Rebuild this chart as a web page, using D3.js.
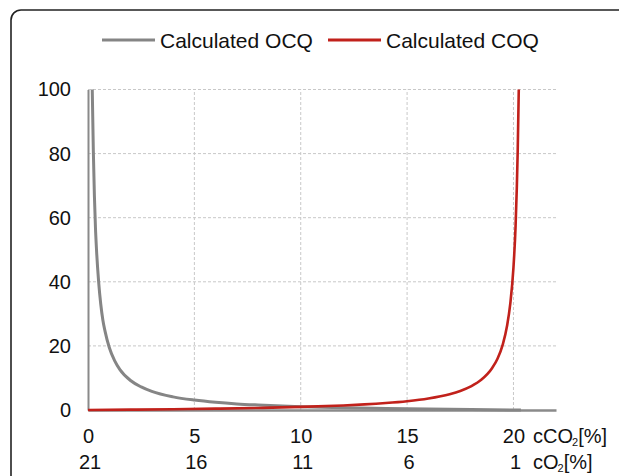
<!DOCTYPE html>
<html>
<head>
<meta charset="utf-8">
<script src="https://cdn.jsdelivr.net/npm/d3@7"></script>
<style>
  html, body { margin: 0; padding: 0; background: #fff; overflow: hidden; }
  svg { display: block; font-family: "Liberation Sans", Arial, sans-serif; }
</style>
</head>
<body>
<svg id="chart" width="619" height="476"></svg>
<script>
// ---- data ----
const ocqX = [0.2, 0.25, 0.3, 0.35, 0.4, 0.5, 0.6, 0.7, 0.8, 1, 1.25, 1.5, 2, 2.5, 3, 4, 5, 6, 7, 8, 10, 12, 14, 16, 18, 20, 20.35];
const ocqY = [100, 81, 67, 57, 50, 40, 33, 28, 24.6, 19.5, 15.4, 12.6, 9.2, 7.2, 5.8, 4.1, 3.1, 2.4, 1.9, 1.56, 1.05, 0.7, 0.46, 0.28, 0.14, 0.02, 0];

const coqX = [0, 2, 4, 6, 8, 10, 12, 13, 14, 15, 16, 17, 17.5, 18, 18.5, 19, 19.25, 19.5, 19.7, 19.85, 20, 20.1, 20.2, 20.25];
const coqY = [0, 0.11, 0.24, 0.42, 0.64, 0.96, 1.42, 1.74, 2.17, 2.75, 3.6, 4.93, 5.93, 7.35, 9.49, 13.1, 16, 20.5, 26.3, 33.1, 44.4, 57.4, 80.8, 100];

const xTicks = [0, 5, 10, 15, 20];
const co2Labels = ["21", "16", "11", "6", "1"];
const yTicks = [0, 20, 40, 60, 80, 100];
const seriesNames = ["Calculated OCQ", "Calculated COQ"];
const seriesColors = ["#858585", "#c1211b"];

// ---- layout ----
const svg = d3.select("#chart");
const margin = { left: 88, right: 63, top: 89.5, bottom: 66 };
const W = 619, H = 476;
const fontSize = 20;
const x = d3.scaleLinear().domain([0, 22]).range([margin.left, W - margin.right]);
const y = d3.scaleLinear().domain([0, 100]).range([H - margin.bottom, margin.top]);

// outer frame: only the top-left rounded corner is inside the picture
svg.append("path")
  .attr("d", "M11,1000 V20 A10,10 0 0 1 21,10 H1000")
  .attr("fill", "none")
  .attr("stroke", "#222")
  .attr("stroke-width", 1.6);

// grid
svg.append("g").selectAll("line")
  .data(yTicks.filter(d => d > 0))
  .join("line")
  .attr("x1", x(0)).attr("x2", x(22))
  .attr("y1", d => y(d)).attr("y2", d => y(d))
  .attr("stroke", "#c8c8c8").attr("stroke-width", 1)
  .attr("stroke-dasharray", "3,2");

svg.append("g").selectAll("line")
  .data(xTicks.filter(d => d > 0))
  .join("line")
  .attr("x1", d => x(d)).attr("x2", d => x(d))
  .attr("y1", y(0)).attr("y2", y(100))
  .attr("stroke", "#c8c8c8").attr("stroke-width", 1)
  .attr("stroke-dasharray", "3,2");

// axes
const yAxis = svg.append("g")
  .attr("transform", `translate(${x(0)},0)`)
  .call(d3.axisLeft(y).tickValues(yTicks).tickSize(0).tickPadding(17));
yAxis.select(".domain").attr("stroke", "#8a8a8a").attr("stroke-width", 2);
yAxis.selectAll("text").attr("font-size", fontSize).attr("fill", "#111")
  .attr("font-family", "Liberation Sans, Arial, sans-serif");

const xAxis = svg.append("g")
  .attr("transform", `translate(0,${y(0)})`)
  .call(d3.axisBottom(x).tickValues(xTicks).tickSize(0).tickPadding(19));
xAxis.select(".domain").attr("stroke", "#8a8a8a").attr("stroke-width", 2.5);
xAxis.selectAll("text").attr("font-size", fontSize).attr("fill", "#111")
  .attr("font-family", "Liberation Sans, Arial, sans-serif");

// second row of x labels (cO2)
svg.append("g").selectAll("text")
  .data(xTicks)
  .join("text")
  .attr("x", (d, i) => x(d) + 2)
  .attr("y", 469)
  .attr("text-anchor", "middle")
  .attr("font-size", fontSize).attr("fill", "#111")
  .text((d, i) => co2Labels[i]);

// axis unit labels with subscript
function unitLabel(yPos, base) {
  const t = svg.append("text")
    .attr("x", 533).attr("y", yPos)
    .attr("font-size", fontSize).attr("fill", "#111");
  t.append("tspan").text(base);
  t.append("tspan").attr("font-size", 11).attr("dy", 3).attr("dx", -1).text("2");
  t.append("tspan").attr("dy", -3).attr("dx", 0).text("[%]");
}
unitLabel(443, "cCO");
unitLabel(469, "cO");

// series
const line = d3.line()
  .x(d => x(d[0]))
  .y(d => y(d[1]))
  .curve(d3.curveMonotoneX);

svg.append("path")
  .datum(ocqX.map((v, i) => [v, ocqY[i]]))
  .attr("d", line)
  .attr("fill", "none")
  .attr("stroke", seriesColors[0])
  .attr("stroke-width", 3);

svg.append("path")
  .datum(coqX.map((v, i) => [v, coqY[i]]))
  .attr("d", line)
  .attr("fill", "none")
  .attr("stroke", seriesColors[1])
  .attr("stroke-width", 2.6);

// legend
const legendPos = [102, 328];
seriesNames.forEach((name, i) => {
  const g = svg.append("g").attr("transform", `translate(${legendPos[i]},40)`);
  g.append("line")
    .attr("x1", 0).attr("x2", 53)
    .attr("y1", 0).attr("y2", 0)
    .attr("stroke", seriesColors[i]).attr("stroke-width", 3);
  g.append("text")
    .attr("x", 58).attr("y", 7.5)
    .attr("font-size", 21).attr("fill", "#111")
    .text(name);
});
</script>
</body>
</html>
